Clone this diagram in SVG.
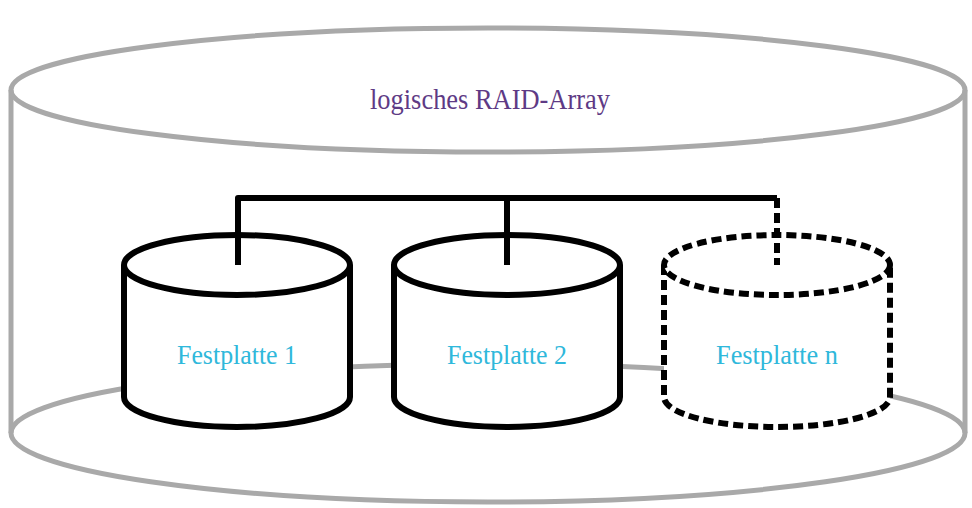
<svg xmlns="http://www.w3.org/2000/svg" width="972" height="508" viewBox="0 0 972 508">
  <style>
    .outer { fill: none; stroke: #a9a9a9; stroke-width: 5; }
    .disk { fill: #ffffff; stroke: #000000; stroke-width: 6; }
    .dashed { stroke-dasharray: 10 5; }
    .bus { fill: none; stroke: #000000; stroke-width: 6; stroke-linejoin: round; }
    .label { font-family: "Liberation Serif", "DejaVu Serif", serif; font-size: 27px; fill: #2fb8db; text-anchor: middle; }
    .title { font-family: "Liberation Serif", "DejaVu Serif", serif; font-size: 29px; fill: #5e3a85; text-anchor: middle; }
  </style>

  <!-- logical array: outer cylinder -->
  <g id="array">
    <ellipse class="outer" cx="488" cy="433" rx="477" ry="69"/>
    <line class="outer" x1="11" y1="90" x2="11" y2="433"/>
    <line class="outer" x1="965" y1="90" x2="965" y2="433"/>
    <ellipse class="outer" cx="488" cy="90" rx="477" ry="62"/>
    <text class="title" x="490" y="109" textLength="240" lengthAdjust="spacingAndGlyphs">logisches RAID-Array</text>
  </g>

  <!-- bus lines to the disks -->
  <g id="connectors">
    <polyline class="bus" points="238,265 238,198 777,198"/>
    <line class="bus" x1="507" y1="198" x2="507" y2="265"/>
  </g>

  <g id="disk1">
    <path class="disk" d="M124,265 L124,397 A113,30 0 0 0 350,397 L350,265"/>
    <ellipse class="disk" cx="237" cy="265" rx="113" ry="30"/>
    <line class="bus" x1="238" y1="198" x2="238" y2="265"/>
    <text class="label" x="237" y="364" textLength="120" lengthAdjust="spacingAndGlyphs">Festplatte 1</text>
  </g>

  <g id="disk2">
    <path class="disk" d="M394,265 L394,397 A113,30 0 0 0 620,397 L620,265"/>
    <ellipse class="disk" cx="507" cy="265" rx="113" ry="30"/>
    <line class="bus" x1="507" y1="198" x2="507" y2="265"/>
    <text class="label" x="507" y="364" textLength="120" lengthAdjust="spacingAndGlyphs">Festplatte 2</text>
  </g>

  <g id="diskn">
    <path class="disk dashed" d="M664,265 L664,397 A113,30 0 0 0 890,397 L890,265"/>
    <ellipse class="disk dashed" cx="777" cy="265" rx="113" ry="30"/>
    <line class="bus dashed" x1="777" y1="198" x2="777" y2="265"/>
    <text class="label" x="777" y="364" textLength="122" lengthAdjust="spacingAndGlyphs">Festplatte n</text>
  </g>
</svg>
